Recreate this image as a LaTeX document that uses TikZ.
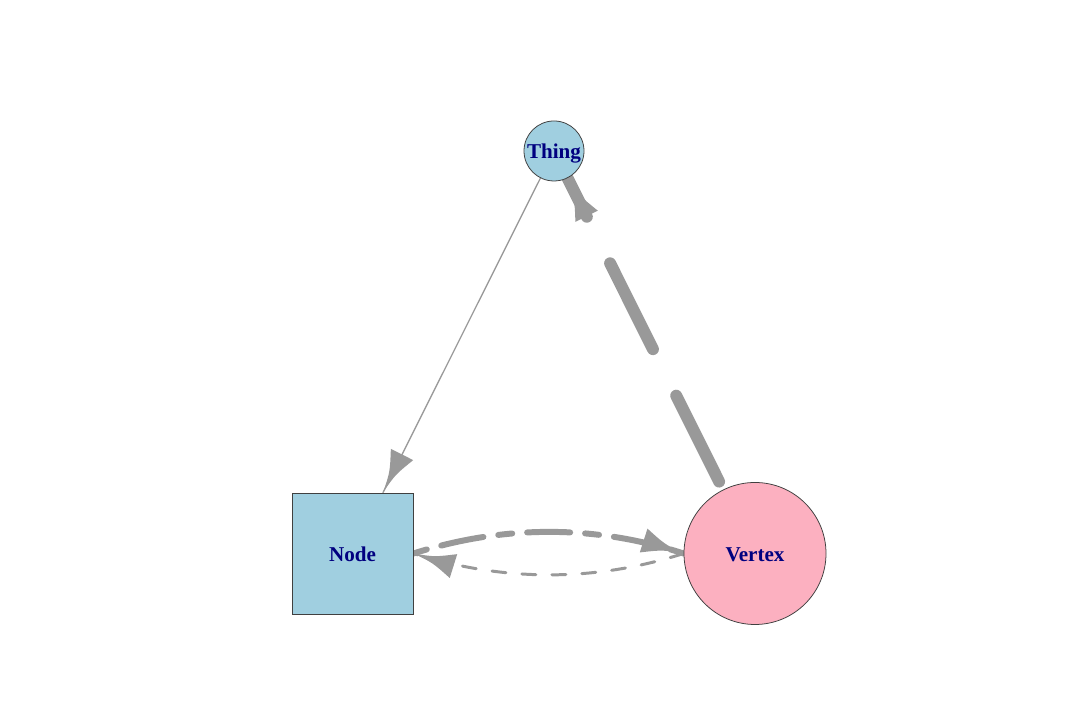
\documentclass[tikz,border=0pt]{standalone}
\usepackage{fontspec}
\setmainfont{Liberation Serif}
\usetikzlibrary{decorations.markings,backgrounds}
\definecolor{edgecol}{RGB}{153,153,153}
\definecolor{vblue}{RGB}{160,207,224}
\definecolor{vpink}{RGB}{252,176,192}
\definecolor{labcol}{RGB}{0,0,128}
\tikzset{
  vtx/.style={draw=black!75, line width=0.22pt, inner sep=0pt,
    text height=4.5pt, text depth=0pt,
    font=\fontsize{6}{7}\selectfont\bfseries, text=labcol},
  edge/.style={draw=edgecol, line cap=round},
  headend/.style={postaction={decorate, decoration={markings,
    mark=at position 0.9999 with {\fill[edgecol] (0,0) .. controls (-0.21,0.03) .. (-0.42,0.125)
      -- (-0.42,-0.125) .. controls (-0.21,-0.03) .. (0,0);}}}},
}
\begin{document}
\begin{tikzpicture}[x=1cm,y=1cm]
\useasboundingbox (0,0) rectangle (10.8,7.2);
\node[vtx, circle, fill=vblue, minimum size=0.60cm] (th) at (5.54,5.69) {Thing};
\node[vtx, rectangle, fill=vblue, minimum size=1.21cm] (nd) at (3.525,1.665) {Node};
\node[vtx, circle, fill=vpink, minimum size=1.42cm] (vx) at (7.55,1.665) {Vertex};
\begin{pgfonlayer}{background}
\draw[edge, line width=0.37pt, headend] (th) -- (nd);
\draw[edge, line width=3.4pt, dash pattern=on 0.96cm off 0.52cm, shorten <=0.09cm, headend] (vx) -- (th);
\draw[edge, line width=1.7pt, dash pattern=on 0.14cm off 0.15cm on 0.43cm off 0.15cm, headend]
  (nd.east) .. controls (5.042,1.953) and (5.947,1.953) .. (vx.west);
\draw[edge, line width=0.85pt, dash pattern=on 0.14cm off 0.16cm, headend]
  (vx.west) .. controls (5.947,1.38) and (5.042,1.38) .. (nd.east);
\end{pgfonlayer}
\end{tikzpicture}
\end{document}
